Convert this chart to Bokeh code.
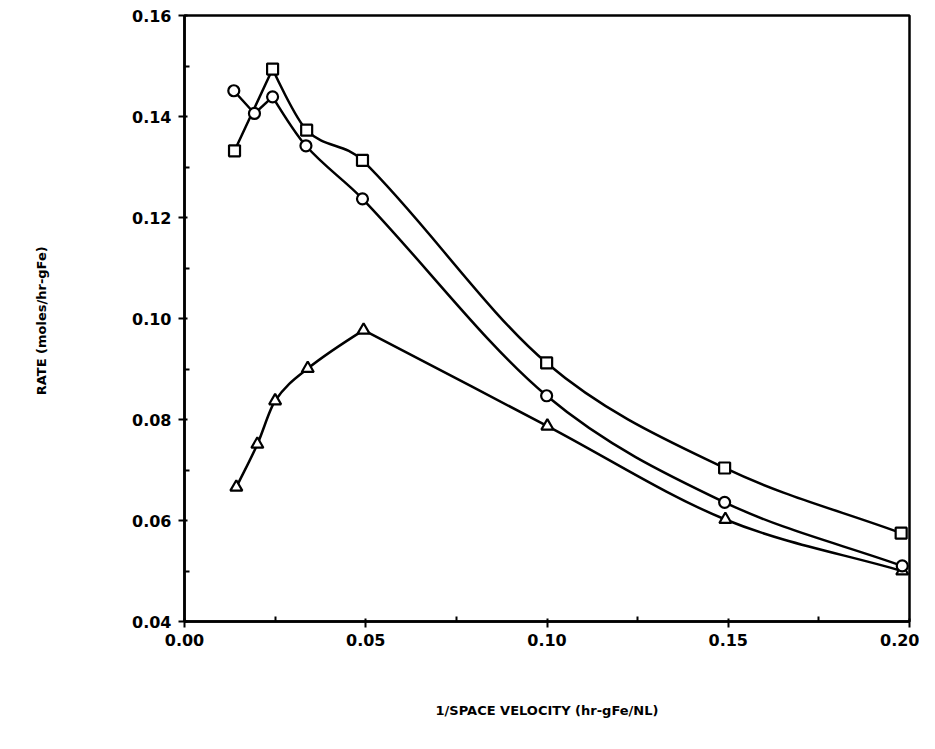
from bokeh.plotting import figure
from bokeh.models import Range1d, FixedTicker, NumeralTickFormatter
from bokeh.embed import file_html
from bokeh.resources import INLINE

# ---- data ----
x_circle = [0.0136, 0.0193, 0.0243, 0.0335, 0.0491, 0.0999, 0.1490, 0.1980]
y_circle = [0.1451, 0.1406, 0.1439, 0.1342, 0.1237, 0.0847, 0.0636, 0.0510]

x_square = [0.0138, 0.0243, 0.0337, 0.0491, 0.0999, 0.1490, 0.1977]
y_square = [0.1332, 0.1494, 0.1373, 0.1313, 0.0912, 0.0704, 0.0575]

x_tri = [0.0143, 0.0201, 0.0250, 0.0340, 0.0494, 0.1001, 0.1492, 0.1980]
y_tri = [0.0666, 0.0751, 0.0837, 0.0901, 0.0977, 0.0787, 0.0602, 0.0500]

x_ticks = [0.00, 0.05, 0.10, 0.15, 0.20]
y_ticks = [0.04, 0.06, 0.08, 0.10, 0.12, 0.14, 0.16]
x_title = "1/SPACE VELOCITY (hr-gFe/NL)"
y_title = "RATE  (moles/hr-gFe)"


def smooth_segments(xs, ys):
    """Cubic Hermite curve through the points (sharp corners at local extrema), as Bezier segments."""
    n = len(xs)
    m = []
    corner = []
    for i in range(n):
        if i == 0:
            m.append((ys[1] - ys[0]) / (xs[1] - xs[0]))
            corner.append(False)
        elif i == n - 1:
            m.append((ys[-1] - ys[-2]) / (xs[-1] - xs[-2]))
            corner.append(False)
        else:
            m.append((ys[i + 1] - ys[i - 1]) / (xs[i + 1] - xs[i - 1]))
            corner.append((ys[i] - ys[i - 1]) * (ys[i + 1] - ys[i]) < 0)
    seg = dict(x0=[], y0=[], x1=[], y1=[], cx0=[], cy0=[], cx1=[], cy1=[])
    for i in range(n - 1):
        h = xs[i + 1] - xs[i]
        seg["x0"].append(xs[i]); seg["y0"].append(ys[i])
        seg["x1"].append(xs[i + 1]); seg["y1"].append(ys[i + 1])
        if corner[i]:
            seg["cx0"].append(xs[i]); seg["cy0"].append(ys[i])
        else:
            seg["cx0"].append(xs[i] + h / 3); seg["cy0"].append(ys[i] + m[i] * h / 3)
        if corner[i + 1]:
            seg["cx1"].append(xs[i + 1]); seg["cy1"].append(ys[i + 1])
        else:
            seg["cx1"].append(xs[i + 1] - h / 3); seg["cy1"].append(ys[i + 1] - m[i + 1] * h / 3)
    return seg


FONT = "DejaVu Sans"

p = figure(
    output_backend="svg", toolbar_location=None,
    frame_width=725, frame_height=606,
    min_border_left=184, min_border_right=10, min_border_top=15, min_border_bottom=110,
    x_range=Range1d(0.0, 0.20), y_range=Range1d(0.04, 0.16),
    background_fill_color="white", border_fill_color="white",
)
p.grid.visible = False
p.outline_line_color = "black"
p.outline_line_width = 2.5

for ax in (p.xaxis[0], p.yaxis[0]):
    ax.axis_line_width = 2.5
    ax.axis_line_color = "black"
    ax.major_tick_line_width = 2
    ax.minor_tick_line_width = 2
    ax.major_tick_out = 6
    ax.major_tick_in = 3
    ax.minor_tick_out = 0
    ax.minor_tick_in = 5
    ax.major_label_text_font = FONT
    ax.major_label_text_font_style = "bold"
    ax.major_label_text_font_size = "16px"
    ax.major_label_text_color = "black"
    ax.axis_label_text_font = FONT
    ax.axis_label_text_font_style = "bold"
    ax.axis_label_text_font_size = "13px"
    ax.axis_label_text_color = "black"
    ax.formatter = NumeralTickFormatter(format="0.00")

p.xaxis[0].ticker = FixedTicker(ticks=x_ticks, minor_ticks=[0.025, 0.075, 0.125, 0.175])
p.yaxis[0].ticker = FixedTicker(ticks=y_ticks, minor_ticks=[0.05, 0.07, 0.09, 0.11, 0.13, 0.15])
p.xaxis[0].axis_label = x_title
p.yaxis[0].axis_label = y_title
p.xaxis[0].major_label_standoff = 6
p.yaxis[0].major_label_standoff = 7
p.xaxis[0].axis_label_standoff = 54
p.yaxis[0].axis_label_standoff = 80

for xs, ys in ((x_circle, y_circle), (x_square, y_square), (x_tri, y_tri)):
    s = smooth_segments(xs, ys)
    p.bezier(x0="x0", y0="y0", x1="x1", y1="y1", cx0="cx0", cy0="cy0", cx1="cx1", cy1="cy1",
             source=s, line_color="black", line_width=2.5)

p.scatter(x_square, y_square, marker="square", size=11, fill_color="white",
          line_color="black", line_width=2.2)
p.scatter(x_tri, y_tri, marker="triangle", size=12, fill_color="white",
          line_color="black", line_width=2.2)
p.scatter(x_circle, y_circle, marker="circle", size=11, fill_color="white",
          line_color="black", line_width=2.2)

open("out.html", "w").write(file_html(p, INLINE))
